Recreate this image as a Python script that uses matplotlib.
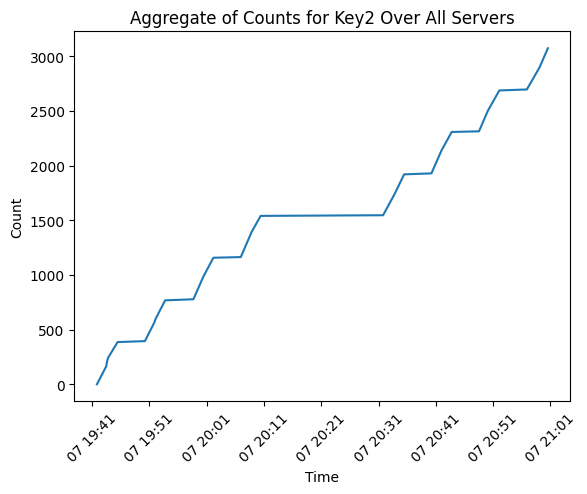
import pandas as pd
import matplotlib
matplotlib.use('Agg')
import matplotlib.pyplot as plt
import matplotlib.dates as mdates

# ------  aggregated cumulative counts  ------
times = ['19:41:52', '19:43:29', '19:43:36', '19:43:47', '19:45:28',
         '19:50:14', '19:51:50', '19:52:09', '19:53:46',
         '19:58:42', '20:00:26', '20:02:11',
         '20:06:58', '20:08:52', '20:10:26',
         '20:31:48', '20:33:50', '20:35:28',
         '20:40:14', '20:41:59', '20:43:46',
         '20:48:32', '20:50:06', '20:52:05',
         '20:56:53', '20:59:06', '21:00:33']
counts = [0, 164, 200, 240, 386,
          395, 560, 604, 768,
          778, 985, 1158,
          1164, 1395, 1541,
          1547, 1744, 1921,
          1930, 2139, 2309,
          2315, 2505, 2689,
          2698, 2900, 3075]

t = pd.to_datetime(['2024-05-07 ' + s for s in times])

fig, ax = plt.subplots(figsize=(6.4, 4.8), dpi=100)
ax.plot(t, counts, color='#1f77b4')

ax.xaxis.set_major_locator(mdates.MinuteLocator(byminute=[1, 11, 21, 31, 41, 51]))
ax.xaxis.set_major_formatter(mdates.DateFormatter('%d %H:%M'))
plt.xticks(rotation=45)

ax.set_title('Aggregate of Counts for Key2 Over All Servers')
ax.set_xlabel('Time')
ax.set_ylabel('Count')

plt.savefig('out.png', bbox_inches='tight')
